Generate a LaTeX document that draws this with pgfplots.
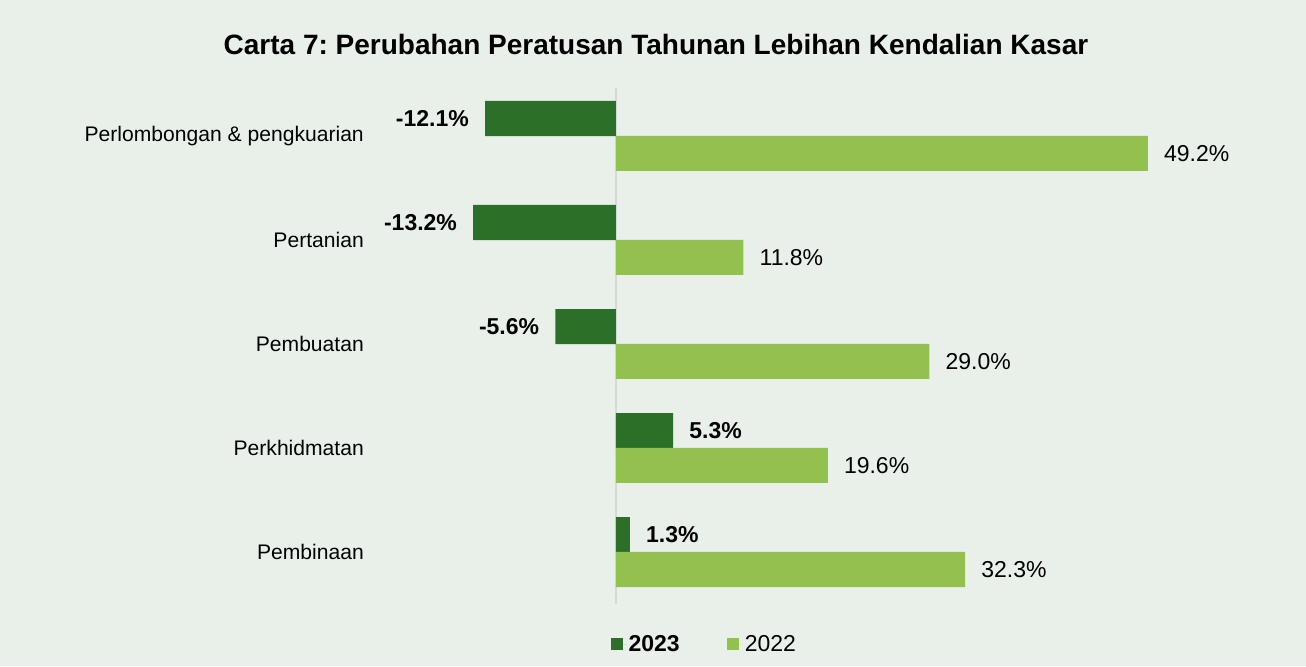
\documentclass[border=0pt]{standalone}
\usepackage{pgfplots}
\pgfplotsset{compat=1.18}
\usepackage{pgfplotstable}
\usepackage{fontspec}
\setmainfont{Liberation Sans}
\frenchspacing
\definecolor{bg}{HTML}{E9F0EA}
\definecolor{dk}{HTML}{2C6F28}
\definecolor{lt}{HTML}{92C24D}
\definecolor{zl}{HTML}{D6DAD6}
\pgfplotstableread{
y x
0 -12.1
1 -13.2
2 -5.6
3 5.3
4 1.3
}\dataA
\pgfplotstableread{
y x
0 49.2
1 11.8
2 29.0
3 19.6
4 32.3
}\dataB
\begin{document}
\begin{tikzpicture}[x=1bp,y=1bp]
\fill[bg] (0,0) rectangle (1306,666);
\node[font=\fontsize{28bp}{33bp}\selectfont\bfseries] at (656,621) {Carta 7: Perubahan Peratusan Tahunan Lebihan Kendalian Kasar};
\begin{axis}[
 at={(378bp,62bp)}, anchor=south west, scale only axis,
 width=886.6bp, height=520bp,
 xmin=-22, xmax=60, ymin=-0.5, ymax=4.5, y dir=reverse,
 xbar, bar width=0.337,
 axis line style={draw=none}, xtick=\empty, ytick={0,1,2,3,4},
 yticklabels={Perlombongan \& pengkuarian, Pertanian, Pembuatan, Perkhidmatan, Pembinaan},
 major tick length=0pt,
 yticklabel style={font=\fontsize{21.1bp}{26bp}\selectfont, inner sep=0pt, xshift=-14bp},
 /pgf/number format/assume math mode=true,
 nodes near coords={\pgfmathprintnumber[fixed,fixed zerofill,precision=1]{\pgfplotspointmeta}\%},
 nodes near coords align=horizontal,
 every node near coord/.append style={font=\fontsize{23bp}{27bp}\selectfont, inner xsep=16bp, inner ysep=0pt, text=black},
 legend style={at={(0.368,-0.077)}, anchor=center, draw=none, fill=none, legend columns=2, font=\fontsize{23bp}{27bp}\selectfont, /tikz/every even column/.append style={column sep=45bp}},
 clip=false,
]
\draw[zl, line width=1.5bp] (axis cs:0,-0.46) -- (axis cs:0,4.5);
\addplot[fill=dk, draw=none, bar shift=-0.168, nodes near coords style={font=\fontsize{23bp}{27bp}\selectfont\bfseries}, legend image code/.code={\fill[dk] (0bp,-6bp) rectangle (12bp,6bp); \path (0bp,0bp) -- (16bp,0bp);}] table[x=x,y=y]{\dataA};
\addplot[fill=lt, draw=none, bar shift=0.168, legend image code/.code={\fill[lt] (0bp,-6bp) rectangle (12bp,6bp); \path (0bp,0bp) -- (16bp,0bp);}] table[x=x,y=y]{\dataB};
\legend{\textbf{2023}, 2022}
\end{axis}
\pgfresetboundingbox
\useasboundingbox (0,0) rectangle (1306,666);
\end{tikzpicture}
\end{document}
